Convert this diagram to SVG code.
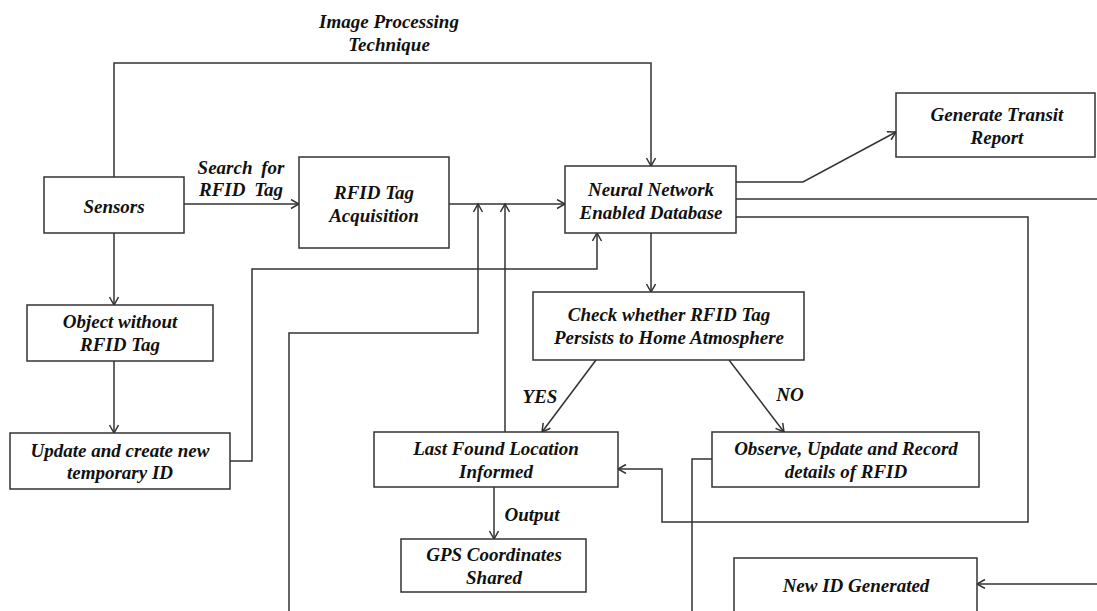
<svg xmlns="http://www.w3.org/2000/svg" width="1097" height="611" viewBox="0 0 1097 611">
<style>
.box{fill:#fff;stroke:#333;stroke-width:1.5}
.t{font-family:"Liberation Serif","Times New Roman",serif;font-weight:bold;font-style:italic;font-size:19px;fill:#111;text-anchor:middle}
.c{fill:none;stroke:#333;stroke-width:1.5}
.a{marker-end:url(#arr)}
</style>
<defs>
<marker id="arr" markerUnits="userSpaceOnUse" markerWidth="12" markerHeight="12" refX="9" refY="5" orient="auto">
<path d="M1,0.5 L9,5 L1,9.5" fill="none" stroke="#333" stroke-width="1.5"/>
</marker>
</defs>
<rect width="1097" height="611" fill="#fff"/>
<g id="connectors">
<path class="c a" d="M114,177 V63 H651 V166"/>
<path class="c a" d="M184,204 H299"/>
<path class="c a" d="M449,204 H565"/>
<path class="c a" d="M114,233 V305"/>
<path class="c a" d="M114,361 V433"/>
<path class="c a" d="M230,461 H252 V269 H597 V233"/>
<path class="c a" d="M289,611 V333 H478 V204"/>
<path class="c a" d="M505,432 V204"/>
<path class="c a" d="M651,233 V292"/>
<path class="c a" d="M596,360 L542,432"/>
<path class="c a" d="M729,360 L784,432"/>
<path class="c a" d="M494,487 V539"/>
<path class="c a" d="M736,182 H803 L896,132"/>
<path class="c" d="M736,199 H1097"/>
<path class="c a" d="M736,217 H1028 V522 H662 V469 H618"/>
<path class="c" d="M712,459 H692 V611"/>
<path class="c a" d="M1097,584 H977"/>
<text class="t" x="389" y="28">Image Processing</text>
<text class="t" x="389" y="51">Technique</text>
<text class="t" x="241" y="174" word-spacing="4">Search for</text>
<text class="t" x="241" y="196" word-spacing="4">RFID Tag</text>
<text class="t" x="540" y="403">YES</text>
<text class="t" x="790" y="401">NO</text>
<text class="t" x="532" y="521">Output</text>
</g>
<g id="sensors">
<rect class="box" x="44" y="177" width="140" height="56"/>
<text class="t" x="114" y="213">Sensors</text>
</g>
<g id="rfid-acq">
<rect class="box" x="299" y="157" width="150" height="91"/>
<text class="t" x="374" y="199">RFID Tag</text>
<text class="t" x="374" y="222">Acquisition</text>
</g>
<g id="neural">
<rect class="box" x="565" y="166" width="171" height="67"/>
<text class="t" x="651" y="196">Neural Network</text>
<text class="t" x="651" y="219">Enabled Database</text>
</g>
<g id="transit">
<rect class="box" x="896" y="93" width="199" height="64"/>
<text class="t" x="997" y="121">Generate Transit</text>
<text class="t" x="997" y="144">Report</text>
</g>
<g id="object">
<rect class="box" x="27" y="305" width="186" height="56"/>
<text class="t" x="120" y="328">Object without</text>
<text class="t" x="120" y="351">RFID Tag</text>
</g>
<g id="update">
<rect class="box" x="10" y="433" width="220" height="56"/>
<text class="t" x="120" y="457">Update and create new</text>
<text class="t" x="120" y="479">temporary ID</text>
</g>
<g id="check">
<rect class="box" x="533" y="292" width="271" height="68"/>
<text class="t" x="669" y="321">Check whether RFID Tag</text>
<text class="t" x="669" y="344">Persists to Home Atmosphere</text>
</g>
<g id="lastfound">
<rect class="box" x="374" y="432" width="244" height="55"/>
<text class="t" x="496" y="455">Last Found Location</text>
<text class="t" x="496" y="478">Informed</text>
</g>
<g id="observe">
<rect class="box" x="712" y="432" width="267" height="55"/>
<text class="t" x="846" y="455">Observe, Update and Record</text>
<text class="t" x="846" y="478">details of RFID</text>
</g>
<g id="gps">
<rect class="box" x="401" y="539" width="185" height="53"/>
<text class="t" x="494" y="561">GPS Coordinates</text>
<text class="t" x="494" y="584">Shared</text>
</g>
<g id="newid">
<rect class="box" x="734" y="558" width="243" height="62"/>
<text class="t" x="856" y="592">New ID Generated</text>
</g>
</svg>
